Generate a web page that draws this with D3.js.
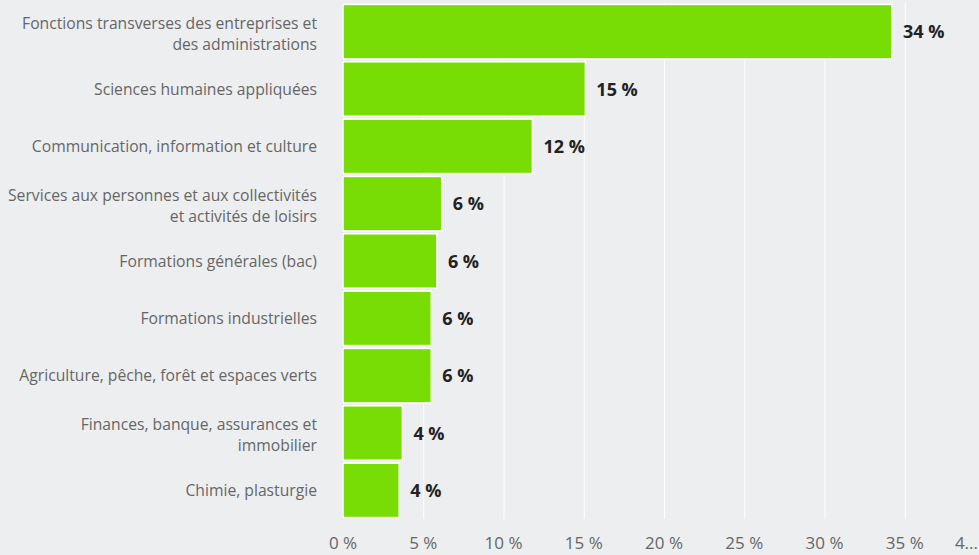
<!DOCTYPE html>
<html lang="fr">
<head>
  <meta charset="UTF-8" />
  <script src="https://d3js.org/d3.v7.min.js"></script>
  <title>Répartition par domaine</title>
  <style>
    html, body { margin: 0; padding: 0; background: #edeef0; }
    svg { display: block; font-family: "Open Sans", sans-serif; }
  </style>
</head>
<body>
  <div id="chart"></div>
  <script>
    // categories (each entry = lines of the label)
    const categories = [
      ["Fonctions transverses des entreprises et", "des administrations"],
      ["Sciences humaines appliquées"],
      ["Communication, information et culture"],
      ["Services aux personnes et aux collectivités", "et activités de loisirs"],
      ["Formations générales (bac)"],
      ["Formations industrielles"],
      ["Agriculture, pêche, forêt et espaces verts"],
      ["Finances, banque, assurances et", "immobilier"],
      ["Chimie, plasturgie"]
    ];
    // share in %
    const values = [34.2, 15.1, 11.8, 6.15, 5.85, 5.5, 5.5, 3.7, 3.5];
    const ticks = [0, 5, 10, 15, 20, 25, 30, 35, 40];

    const width = 979, height = 555;
    const margin = { top: 3, right: 0, bottom: 36, left: 343 };

    const svg = d3.select("#chart")
      .append("svg")
      .attr("width", width)
      .attr("height", height);

    const x = d3.scaleLinear()
      .domain([0, 40])
      .range([margin.left, margin.left + 16.05 * 40]);

    const y = d3.scaleBand()
      .domain(d3.range(categories.length))
      .range([margin.top, height - margin.bottom])
      .paddingInner(0.05)
      .paddingOuter(0.025);

    // white vertical gridlines
    svg.append("g")
      .selectAll("line")
      .data(ticks.filter(t => t > 0))
      .join("line")
      .attr("x1", d => x(d) + 0.5)
      .attr("x2", d => x(d) + 0.5)
      .attr("y1", margin.top)
      .attr("y2", height - margin.bottom)
      .attr("stroke", "#ffffff")
      .attr("stroke-width", 1);

    // category axis line
    svg.append("line")
      .attr("x1", x(0) - 0.5)
      .attr("x2", x(0) - 0.5)
      .attr("y1", margin.top)
      .attr("y2", height - margin.bottom)
      .attr("stroke", "#ccd6eb");

    // bars
    svg.append("g")
      .selectAll("rect")
      .data(values)
      .join("rect")
      .attr("x", x(0))
      .attr("y", (d, i) => y(i))
      .attr("width", d => x(d) - x(0))
      .attr("height", y.bandwidth())
      .attr("fill", "#77dd04")
      .attr("stroke", "#ffffff")
      .attr("stroke-width", 1.5);

    // value labels
    svg.append("g")
      .selectAll("text")
      .data(values)
      .join("text")
      .attr("x", d => x(d) + 11)
      .attr("y", (d, i) => y(i) + y.bandwidth() / 2 + 6.5)
      .attr("font-size", "18px")
      .attr("font-weight", "bold")
      .attr("fill", "#222")
      .text(d => Math.round(d) + " %");

    // category labels
    const lab = svg.append("g")
      .selectAll("text")
      .data(categories)
      .join("text")
      .attr("text-anchor", "end")
      .attr("font-size", "15.7px")
      .attr("fill", "#666")
      .attr("y", (d, i) => y(i) + y.bandwidth() / 2 + 5.5 - (d.length - 1) * 8.5);

    lab.selectAll("tspan")
      .data(d => d)
      .join("tspan")
      .attr("x", 317)
      .attr("dy", (d, i) => i === 0 ? 0 : 21)
      .text(d => d);

    // x axis tick labels
    svg.append("g")
      .selectAll("text")
      .data(ticks)
      .join("text")
      .attr("x", d => d === 40 ? width - 1 : x(d))
      .attr("y", height - 6)
      .attr("text-anchor", d => d === 40 ? "end" : "middle")
      .attr("font-size", "17px")
      .attr("fill", "#666")
      .text(d => d === 40 ? "4..." : d + " %");
  </script>
</body>
</html>
